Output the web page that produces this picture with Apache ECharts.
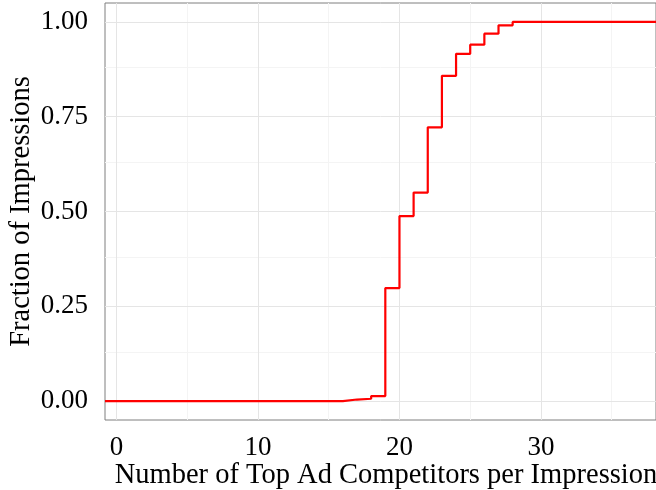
<!DOCTYPE html>
<html>
<head>
<meta charset="utf-8">
<script src="https://cdn.jsdelivr.net/npm/echarts@6/dist/echarts.min.js"></script>
<style>
  html, body { margin: 0; padding: 0; background: #fff; }
  #chart { width: 656px; height: 490px; }
</style>
</head>
<body>
<div id="chart"></div>
<script>
// Empirical CDF of the number of top ad competitors per impression
const competitors = [15, 16, 17, 18, 19, 20, 21, 22, 23, 24, 25, 26, 27, 28];
const fractions   = [0, 0.004, 0.006, 0.013, 0.298, 0.488, 0.55, 0.722, 0.858, 0.916, 0.94, 0.969, 0.991, 1.0];

// Axis ranges and breaks
const xRange = [-0.81, 38.13];
const yRange = [-0.05, 1.05];
const xMajor = [0, 10, 20, 30];
const xMinor = [5, 15, 25, 35];
const yMajor = [0, 0.25, 0.5, 0.75, 1.0];
const yMinor = [0.125, 0.375, 0.625, 0.875];
const yLabels = ['0.00', '0.25', '0.50', '0.75', '1.00'];

const FONT = '"Liberation Serif", "DejaVu Serif", serif';

// ECDF runs from -Inf to +Inf: pad with the axis ends
const stepData = [[xRange[0], 0]]
  .concat(competitors.map((c, i) => [c, fractions[i]]))
  .concat([[xRange[1], 1.0]]);

const gridLine = (col) => ({ color: col, width: 1, type: 'solid' });
const markLines = []
  .concat(xMinor.map(v => ({ xAxis: v, lineStyle: gridLine('#f4f4f4') })))
  .concat(yMinor.map(v => ({ yAxis: v, lineStyle: gridLine('#f4f4f4') })))
  .concat(xMajor.map(v => ({ xAxis: v, lineStyle: gridLine('#e5e5e5') })))
  .concat(yMajor.map(v => ({ yAxis: v, lineStyle: gridLine('#e5e5e5') })));

const chart = echarts.init(document.getElementById('chart'), null, { renderer: 'canvas' });
chart.setOption({
  animation: false,
  backgroundColor: '#ffffff',
  grid: {
    left: 105, top: 3, right: 0, bottom: 70,
    containLabel: false, outerBoundsMode: 'none',
    show: true, borderColor: '#7f7f7f', borderWidth: 1, backgroundColor: 'transparent'
  },
  xAxis: {
    type: 'value',
    min: xRange[0], max: xRange[1],
    name: 'Number of Top Ad Competitors per Impressions',
    nameLocation: 'middle',
    nameGap: 41,
    nameMoveOverlap: false,
    nameTextStyle: { fontFamily: FONT, fontSize: 28.5, color: '#000', padding: [0, 0, 0, 22] },
    axisLine: { show: false },
    splitLine: { show: false },
    axisTick: { show: true, length: 6, customValues: xMajor, lineStyle: { color: '#333', width: 1 } },
    axisLabel: {
      customValues: xMajor, margin: 14,
      fontFamily: FONT, fontSize: 27, color: '#000'
    }
  },
  yAxis: {
    type: 'value',
    min: yRange[0], max: yRange[1],
    name: 'Fraction of Impressions',
    nameLocation: 'middle',
    nameGap: 69,
    nameRotate: 90,
    nameMoveOverlap: false,
    nameTextStyle: { fontFamily: FONT, fontSize: 28.5, color: '#000' },
    axisLine: { show: false },
    splitLine: { show: false },
    axisTick: { show: true, length: 6, customValues: yMajor, lineStyle: { color: '#333', width: 1 } },
    axisLabel: {
      customValues: yMajor, margin: 17,
      fontFamily: FONT, fontSize: 27, color: '#000',
      formatter: (v) => yLabels[yMajor.indexOf(Math.round(v * 1000) / 1000)] ?? v.toFixed(2)
    }
  },
  series: [
    {
      type: 'line',
      z: 1,
      data: [[xRange[0], 0]],
      symbol: 'none',
      lineStyle: { opacity: 0 },
      silent: true,
      markLine: {
        z: 1,
        silent: true,
        animation: false,
        symbol: ['none', 'none'],
        label: { show: false },
        data: markLines
      }
    },
    {
      type: 'line',
      z: 10,
      step: 'end',
      data: stepData,
      symbol: 'none',
      lineStyle: { color: '#ff0000', width: 2.2 }
    }
  ]
});
</script>
</body>
</html>
